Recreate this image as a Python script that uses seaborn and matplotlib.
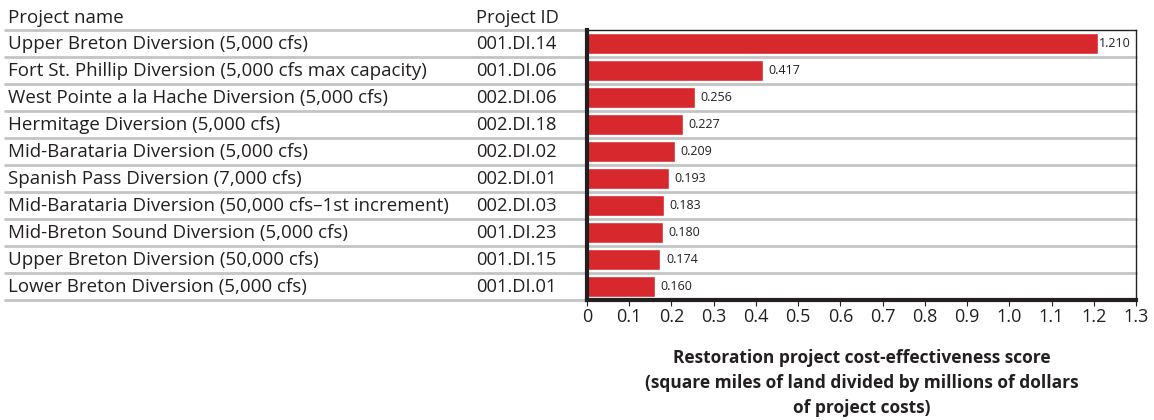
import matplotlib
matplotlib.use("Agg")
import matplotlib.pyplot as plt
import matplotlib.transforms as mtransforms
import seaborn as sns
import pandas as pd

project_names = [
    "Upper Breton Diversion (5,000 cfs)",
    "Fort St. Phillip Diversion (5,000 cfs max capacity)",
    "West Pointe a la Hache Diversion (5,000 cfs)",
    "Hermitage Diversion (5,000 cfs)",
    "Mid-Barataria Diversion (5,000 cfs)",
    "Spanish Pass Diversion (7,000 cfs)",
    "Mid-Barataria Diversion (50,000 cfs\u20131st increment)",
    "Mid-Breton Sound Diversion (5,000 cfs)",
    "Upper Breton Diversion (50,000 cfs)",
    "Lower Breton Diversion (5,000 cfs)",
]
project_ids = [
    "001.DI.14", "001.DI.06", "002.DI.06", "002.DI.18", "002.DI.02",
    "002.DI.01", "002.DI.03", "001.DI.23", "001.DI.15", "001.DI.01",
]
scores = [1.210, 0.417, 0.256, 0.227, 0.209, 0.193, 0.183, 0.180, 0.174, 0.160]
x_ticks = [0, 0.1, 0.2, 0.3, 0.4, 0.5, 0.6, 0.7, 0.8, 0.9, 1.0, 1.1, 1.2, 1.3]
x_tick_labels = ["0", "0.1", "0.2", "0.3", "0.4", "0.5", "0.6", "0.7", "0.8",
                 "0.9", "1.0", "1.1", "1.2", "1.3"]

sns.set_theme(style="white")
plt.rcParams["font.family"] = ["Open Sans", "DejaVu Sans"]

TEXT = "#231F20"
NAME_FS = 13.5
ID_FS = 13.2

df = pd.DataFrame({"name": project_names, "id": project_ids, "score": scores})

fig = plt.figure(figsize=(11.54, 4.2), dpi=100)
ax = fig.add_axes([587 / 1154, 1 - 300 / 420, (1136 - 587) / 1154, 270 / 420])

bar_color = "#D7282D"
sns.barplot(data=df, x="score", y="name", orient="h", color=bar_color,
            width=0.75, saturation=1, ax=ax)

ax.set_xlim(0, 1.3)
ax.set_ylim(len(scores) - 0.5, -0.5)
ax.set_xticks(x_ticks)
ax.set_xticklabels(x_tick_labels, fontsize=13, color=TEXT)
ax.set_yticks([])
ax.set_ylabel("")
ax.set_xlabel("Restoration project cost-effectiveness score\n"
              "(square miles of land divided by millions of dollars\n"
              "of project costs)",
              fontsize=12.5, fontweight="bold", color=TEXT, labelpad=16,
              linespacing=1.5)
ax.tick_params(axis="x", which="major", bottom=True, direction="out",
               length=4, width=0.8, color=TEXT, pad=2)

for side in ["left", "bottom"]:
    ax.spines[side].set_linewidth(3)
    ax.spines[side].set_color(TEXT)
for side in ["top", "right"]:
    ax.spines[side].set_linewidth(1)
    ax.spines[side].set_color(TEXT)

# Value labels at the bar ends; the longest one sits snug against its bar
for i, v in enumerate(scores):
    pad = 1 if v == max(scores) else 4
    ax.annotate(f"{v:.3f}", xy=(v, i), xytext=(pad, 0),
                textcoords="offset points", ha="left", va="center",
                fontsize=9, color=TEXT)

# Table rows to the left of the plot area
row_tf = mtransforms.blended_transform_factory(fig.transFigure, ax.transData)
x_name = 8 / 1154
x_id = 476 / 1154
x_line_start = 5 / 1154
x_line_end = 1136 / 1154
line_color = "#C4C4C4"

for i, (nm, pid) in enumerate(zip(project_names, project_ids)):
    fig.text(x_name, i + 0.02, nm, transform=row_tf, fontsize=NAME_FS,
             va="center", ha="left", color=TEXT)
    fig.text(x_id, i + 0.02, pid, transform=row_tf, fontsize=ID_FS,
             va="center", ha="left", color=TEXT)

for b in [k - 0.5 for k in range(len(scores) + 1)]:
    end = 587 / 1154 if b in (-0.5, len(scores) - 0.5) else x_line_end
    ax.plot([x_line_start, end], [b, b], transform=row_tf, color=line_color,
            linewidth=2, clip_on=False, zorder=0)

# Column headers
header_y = 1 - 18 / 420
fig.text(x_name, header_y, "Project name", fontsize=NAME_FS, va="center",
         ha="left", color=TEXT)
fig.text(x_id, header_y, "Project ID", fontsize=ID_FS, va="center",
         ha="left", color=TEXT)

fig.savefig("out.png", dpi=100)
